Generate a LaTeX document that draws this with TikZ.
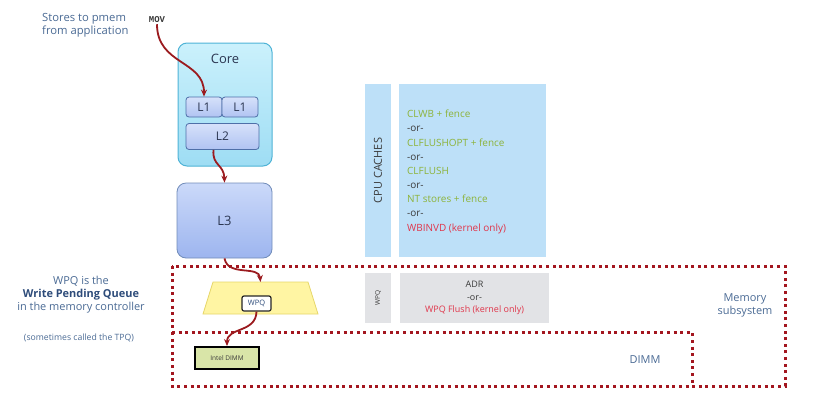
\documentclass[tikz,border=0pt]{standalone}
\usepackage{fontspec}
\setmainfont{Open Sans}
\setmonofont{Liberation Mono}
\usetikzlibrary{arrows.meta}

\definecolor{arrowred}{HTML}{9B1B1F}
\definecolor{dotred}{HTML}{A3161F}
\definecolor{steel}{HTML}{4A6A94}
\definecolor{navy}{HTML}{2E4C7A}
\definecolor{txtdark}{HTML}{2A3550}
\definecolor{coreborder}{HTML}{4EB3D6}
\definecolor{coretop}{HTML}{CBF1FC}
\definecolor{corebot}{HTML}{9EDDF4}
\definecolor{lborder}{HTML}{4E6FA8}
\definecolor{ltop}{HTML}{D6E1FA}
\definecolor{lbot}{HTML}{B0C3F2}
\definecolor{lthreetop}{HTML}{CBD9F9}
\definecolor{lthreebot}{HTML}{9DB5EF}
\definecolor{cachefill}{HTML}{BDE0F8}
\definecolor{grayfill}{HTML}{E2E3E6}
\definecolor{cgreen}{HTML}{8DB33A}
\definecolor{cred}{HTML}{E0354A}
\definecolor{darkgray}{HTML}{3A3A3A}
\definecolor{wpqfill}{HTML}{FFF5A3}
\definecolor{wpqborder}{HTML}{E6D66A}
\definecolor{dimmfill}{HTML}{D9E5A8}

\tikzset{
    corebox/.style={draw=coreborder, line width=1bp, rounded corners=9bp,
        top color=coretop, bottom color=corebot},
    lbox/.style={draw=lborder, line width=0.8bp, rounded corners=3bp,
        top color=ltop, bottom color=lbot, text=txtdark,
        font=\fontsize{12}{14}\selectfont, inner sep=0pt},
    l3box/.style={draw=lborder!80, line width=0.8bp, rounded corners=9bp,
        top color=lthreetop, bottom color=lthreebot, text=txtdark,
        font=\fontsize{13}{15}\selectfont},
    flow/.style={-{Stealth[length=7bp,width=6bp]}, line width=1.8bp, draw=arrowred},
    memframe/.style={draw=dotred, line width=3bp, dash pattern=on 3bp off 3.6bp},
    note/.style={text=steel, font=\fontsize{11}{13}\selectfont, align=center},
    strip/.style={fill=#1, rotate=90, inner sep=0pt, text=darkgray}
}

\begin{document}
\begin{tikzpicture}[x=1bp,y=-1bp]
    \useasboundingbox (0,0) rectangle (818,417);

    % Memory subsystem and DIMM frames
    \draw[memframe] (172,266) rectangle (785,386);
    \draw[memframe] (172,332) -- (692,332) -- (692,386);

    % Store coming from the application
    \node[text=steel, font=\fontsize{11.3}{13}\selectfont, align=left, anchor=north west, inner sep=0pt]
        (stores) at (42,13) {Stores to pmem\\from application};
    \node[font=\ttfamily\bfseries\fontsize{9}{10}\selectfont, text=darkgray, inner sep=1bp]
        (mov) at (157,20) {MOV};

    % Core with L1 and L2
    \node[corebox, minimum width=94bp, minimum height=123bp] (core) at (225,104.5) {};
    \node[text=txtdark, font=\fontsize{13}{15}\selectfont] (corename) at (225,59) {Core};
    \node[lbox, minimum width=36bp, minimum height=20bp] (l1a) at (204,107) {L1};
    \node[lbox, minimum width=36bp, minimum height=20bp] (l1b) at (240,107) {L1};
    \node[lbox, minimum width=73bp, minimum height=26bp] (l2) at (222.5,136.5) {L2};

    % L3
    \node[l3box, minimum width=95bp, minimum height=75bp] (l3) at (224.5,220.5) {L3};

    % Write pending queue, narrow at the top
    \draw[draw=wpqborder, fill=wpqfill, line width=0.8bp]
        (213,282) -- (308,282) -- (318,314) -- (203,314) -- cycle;
    \coordinate (wpqtop) at (260.5,282);
    \node[draw=black!85, fill=white, line width=1.2bp, rounded corners=2bp, minimum width=29bp,
        minimum height=15bp, inner sep=0pt, text=navy, font=\fontsize{7.5}{8}\selectfont]
        (wpqbox) at (256.5,303.5) {WPQ};

    % Intel DIMM
    \node[draw=black, fill=dimmfill, line width=2bp, minimum width=64bp,
        minimum height=22bp, inner sep=0pt, font=\fontsize{6.5}{7}\selectfont, text=darkgray]
        (dimm) at (227,358) {Intel DIMM};

    % arrows along the store path
    \draw[flow] (mov.south) .. controls (157,65) and (204,60) .. (l1a.north);
    \draw[flow] ([xshift=-9bp]l2.south) .. controls (212,166) and (224,164) .. (l3.north);
    \draw[flow] (l3.south) .. controls (228,277) and (259,265) .. (wpqtop);
    \draw[flow] (wpqbox.south) .. controls (256,333) and (227,327) .. (dimm.north);

    % CPU caches column
    \node[strip=cachefill, minimum width=173bp, minimum height=26bp,
        font=\fontsize{11}{13}\selectfont] (cpustrip) at (378,170.5) {CPU CACHES};
    \node[fill=cachefill, minimum width=147bp, minimum height=173bp] (cachebox) at (472.5,170.5) {};
    \node[anchor=north west, align=left, inner sep=0pt, text=darkgray,
        font=\fontsize{10}{14.2}\selectfont] (flushlist) at (407,110)
        {\textcolor{cgreen}{CLWB + fence}\\-or-\\\textcolor{cgreen}{CLFLUSHOPT + fence}\\-or-\\
         \textcolor{cgreen}{CLFLUSH}\\-or-\\\textcolor{cgreen}{NT stores + fence}\\-or-\\
         \textcolor{cred}{WBINVD (kernel only)}};

    % WPQ column
    \node[strip=grayfill, minimum width=50bp, minimum height=26bp,
        font=\fontsize{6.5}{7}\selectfont] (wpqstrip) at (378,298) {WPQ};
    \node[fill=grayfill, minimum width=149bp, minimum height=50bp, align=center, text=darkgray,
        font=\fontsize{9}{12.5}\selectfont] (adrbox) at (474.5,298)
        {ADR\\-or-\\\textcolor{cred}{WPQ Flush (kernel only)}};

    % notes
    \node[note] (wpqnote) at (81,295) {WPQ is the\\\textbf{\textcolor{navy}{Write Pending Queue}}\\in the memory controller};
    \node[note, font=\fontsize{8.7}{10}\selectfont] (tpqnote) at (79,338) {(sometimes called the TPQ)};
    \node[note] (memnote) at (745,305) {Memory\\subsystem};
    \node[note] (dimmnote) at (645,360) {DIMM};
\end{tikzpicture}
\end{document}
